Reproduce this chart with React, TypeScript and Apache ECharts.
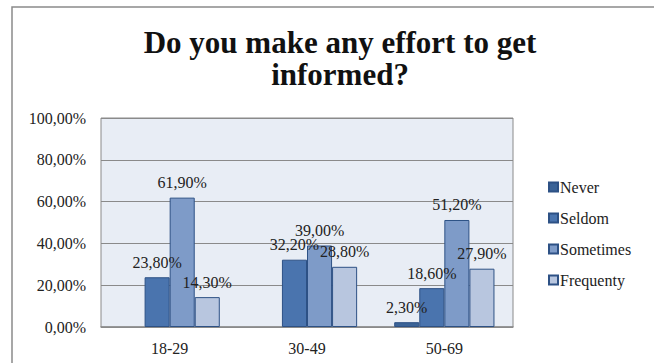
import React, { useEffect, useRef } from "react";
import * as echarts from "echarts";

const categories = ["18-29", "30-49", "50-69"];
const seriesNames = ["Never", "Seldom", "Sometimes", "Frequenty"];
const never = [null, null, 2.3];
const seldom = [23.8, 32.2, 18.6];
const sometimes = [61.9, 39.0, 51.2];
const frequenty = [14.3, 28.8, 27.9];
const colors = ["#3b6397", "#4a74ae", "#7e9bc8", "#b8c6df"];

const FONT = "'Liberation Serif', 'DejaVu Serif', serif";

const fmt = (v: number) => v.toFixed(2).replace(".", ",") + "%";

export default function App() {
  const ref = useRef<HTMLDivElement>(null);
  useEffect(() => {
    if (!ref.current) return;
    const chart = echarts.init(ref.current, undefined, { renderer: "svg" });
    const datasets = [never, seldom, sometimes, frequenty];
    chart.setOption({
      animation: false,
      backgroundColor: "#ffffff",
      textStyle: { fontFamily: FONT },
      title: {
        text: "Do you make any effort to get\ninformed?",
        left: 335,
        textAlign: "center",
        top: 21,
        textStyle: {
          fontFamily: FONT,
          fontWeight: "bold",
          fontSize: 31,
          lineHeight: 32,
          color: "#111",
        },
      },
      graphic: [
        {
          type: "rect",
          shape: { x: 12, y: 7, width: 700, height: 400 },
          style: { fill: "none", stroke: "#8a8a8a", lineWidth: 1.5 },
          silent: true,
          z: -1,
        },
      ],
      legend: {
        orient: "vertical",
        left: 543,
        top: 174,
        itemWidth: 9,
        itemHeight: 9,
        itemGap: 15,
        icon: "rect",
        textStyle: { fontFamily: FONT, fontSize: 16, color: "#222", padding: [0, 0, 0, -3] },
        data: seriesNames,
      },
      grid: {
        left: 101,
        top: 118,
        right: 141,
        bottom: 36,
        show: true,
        backgroundColor: "#e8edf5",
        borderColor: "#8a8a8a",
        borderWidth: 1,
      },
      xAxis: {
        type: "category",
        data: categories,
        axisTick: { show: false },
        axisLine: { lineStyle: { color: "#8a8a8a", width: 1.5 } },
        axisLabel: { fontFamily: FONT, fontSize: 16, color: "#222", margin: 13 },
      },
      yAxis: {
        type: "value",
        min: 0,
        max: 100,
        interval: 20,
        axisLine: { show: false },
        axisTick: { show: false },
        splitLine: { lineStyle: { color: "#8a8a8a", width: 1 } },
        axisLabel: {
          fontFamily: FONT,
          fontSize: 16,
          color: "#222",
          margin: 15,
          formatter: (v: number) => fmt(v),
        },
      },
      series: seriesNames.map((name, i) => ({
        name,
        type: "bar",
        data: datasets[i],
        barGap: "0%",
        barCategoryGap: "27%",
        itemStyle: { color: colors[i], borderColor: "#2d5185", borderWidth: 1 },
        label: {
          show: true,
          position: "top",
          distance: 7,
          fontFamily: FONT,
          fontSize: 16,
          color: "#222",
          formatter: (p: any) => (p.value == null ? "" : fmt(p.value)),
        },
      })),
    });
    return () => chart.dispose();
  }, []);
  return (
    <div
      ref={ref}
      style={{ position: "fixed", left: 0, top: 0, width: 654, height: 363 }}
    />
  );
}
